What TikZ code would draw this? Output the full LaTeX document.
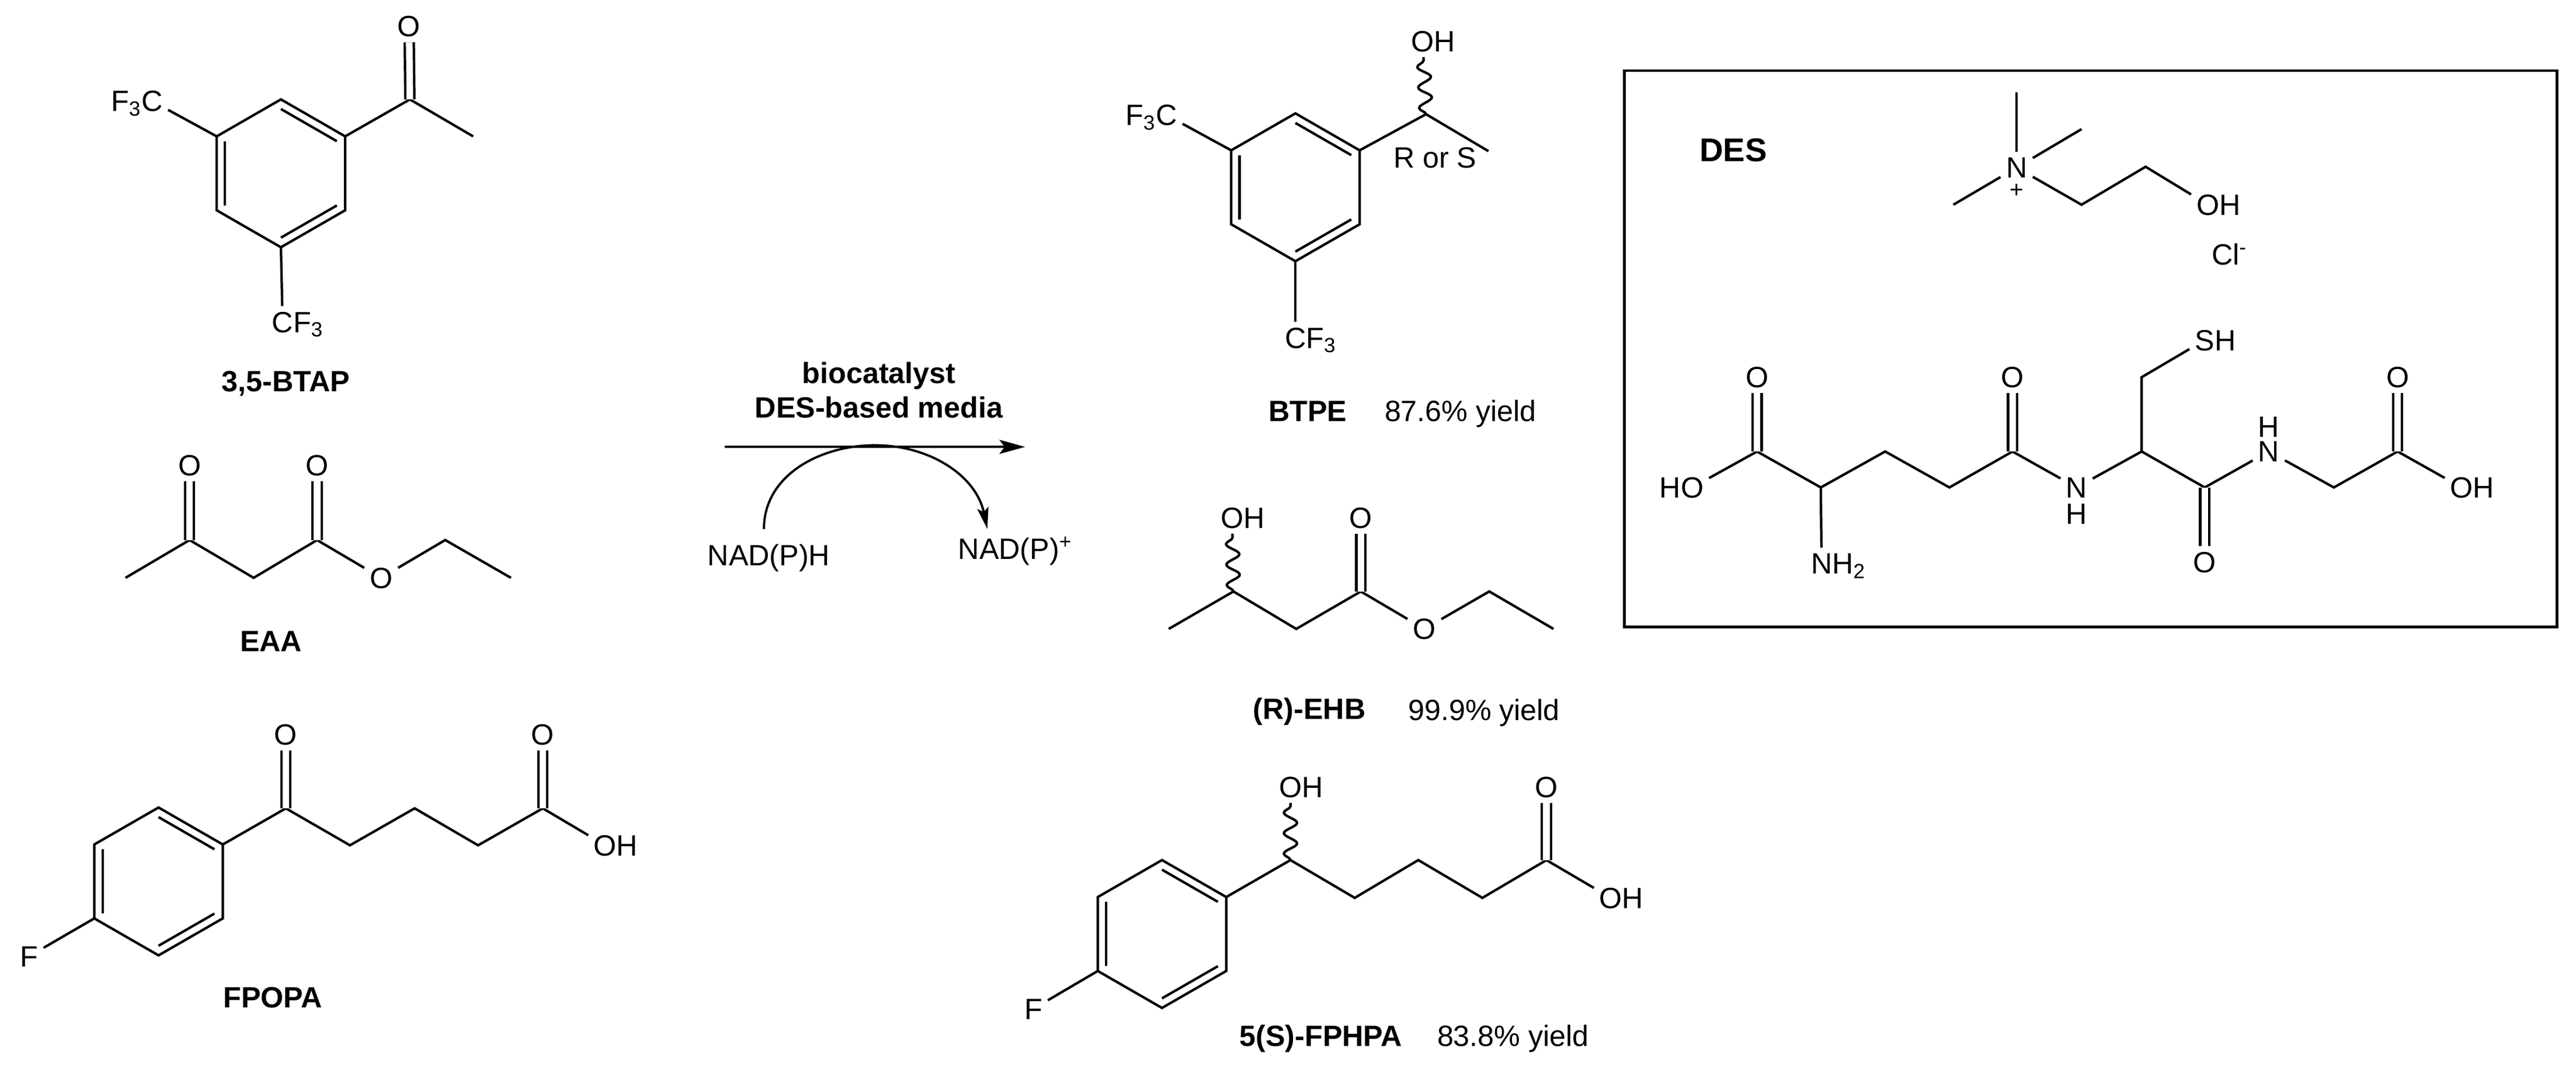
\documentclass[tikz,border=0pt]{standalone}
\usepackage{fontspec}
\setmainfont{Liberation Sans}
\usetikzlibrary{calc,arrows.meta,decorations.pathmorphing}
\tikzstyle{atom} = [inner sep=2.5pt, text height=10.2pt, text depth=0pt,
    font=\fontsize{14.3}{17}\selectfont]
\tikzstyle{molname} = [atom, font=\fontsize{14.3}{17}\selectfont\bfseries]
\tikzstyle{bond} = [draw, line width=1.2pt]
\tikzstyle{dbond} = [draw, double, line width=1.2pt, double distance=3.2pt]
\tikzstyle{wavy} = [draw, line width=1.2pt, decorate,
    decoration={snake, segment length=10pt, amplitude=3.2pt}]
\tikzstyle{arrow} = [draw, line width=1.2pt, -{Stealth[length=12.5pt, width=6.8pt, inset=2.5pt]}]
\tikzstyle{cofarrow} = [draw, line width=1.1pt, -{Stealth[length=10.5pt, width=5.5pt, inset=2pt]}]
% ring with centre at #2,#3; vertices #1a (top) to #1f, clockwise
\newcommand{\benzring}[3]{
  \coordinate (#1o) at (#2,#3);
  \coordinate (#1a) at (#2,#3-45);
  \coordinate (#1b) at (#2+39.1,#3-22.5);
  \coordinate (#1c) at (#2+39.1,#3+22.5);
  \coordinate (#1d) at (#2,#3+45);
  \coordinate (#1e) at (#2-39.1,#3+22.5);
  \coordinate (#1f) at (#2-39.1,#3-22.5);
  \draw[bond, line join=miter] (#1a) -- (#1b) -- (#1c) -- (#1d) -- (#1e) -- (#1f) -- cycle;
  \draw[bond] ($(#1a)!.13!(#1o)$) -- ($(#1b)!.13!(#1o)$);
  \draw[bond] ($(#1c)!.13!(#1o)$) -- ($(#1d)!.13!(#1o)$);
  \draw[bond] ($(#1e)!.13!(#1o)$) -- ($(#1f)!.13!(#1o)$);
}

\begin{document}
\begin{tikzpicture}[x=0.028132cm, y=-0.028132cm]
    \useasboundingbox (0,0) rectangle (1568,649.44);

    % 3,5-BTAP
    \benzring{btap}{171}{105.5}
    \coordinate (btapco) at (249.5,60.5);
    \coordinate (btapme) at (288,83);
    \node[atom] (btapox) at (249,16) {O};
    \node[atom] (btapfl) at (92.5,61.5) {\llap{F\textsubscript{3}}C};
    \node[atom] (btapcf) at (172,196) {C\rlap{F\textsubscript{3}}};
    \node[molname] (btapname) at (174,232) {3,5-BTAP};
    \draw[bond] (btapb) -- (btapco) -- (btapme);
    \draw[dbond] (btapco) -- (btapox);
    \draw[bond] (btapf) -- (btapfl);
    \draw[bond] (btapd) -- (btapcf);

    % EAA
    \coordinate (eaame) at (76.4,351.7);
    \coordinate (eaaca) at (115.4,328.7);
    \coordinate (eaach) at (154.4,351.7);
    \coordinate (eaacb) at (193,328.7);
    \coordinate (eaacc) at (271,328.7);
    \coordinate (eaacd) at (311,351.7);
    \node[atom] (eaaoa) at (115.4,283) {O};
    \node[atom] (eaaob) at (193,283) {O};
    \node[atom] (eaaoc) at (232,351.7) {O};
    \node[molname] (eaaname) at (165,390) {EAA};
    \draw[bond] (eaame) -- (eaaca) -- (eaach) -- (eaacb) -- (eaaoc) -- (eaacc) -- (eaacd);
    \draw[dbond] (eaaca) -- (eaaoa);
    \draw[dbond] (eaacb) -- (eaaob);

    % FPOPA
    \benzring{fpo}{96.5}{536.5}
    \coordinate (fpoca) at (174,492);
    \coordinate (fpocb) at (213,514.5);
    \coordinate (fpocc) at (252.4,492);
    \coordinate (fpocd) at (291,514.5);
    \coordinate (fpoce) at (330.4,492);
    \node[atom] (fpofl) at (17.7,582) {F};
    \node[atom] (fpooa) at (174,447) {O};
    \node[atom] (fpoob) at (330.4,447) {O};
    \node[atom] (fpooh) at (368.4,514.5) {O\rlap{H}};
    \node[molname] (fponame) at (166,607) {FPOPA};
    \draw[bond] (fpob) -- (fpoca) -- (fpocb) -- (fpocc) -- (fpocd) -- (fpoce) -- (fpooh);
    \draw[dbond] (fpoca) -- (fpooa);
    \draw[dbond] (fpoce) -- (fpoob);
    \draw[bond] (fpoe) -- (fpofl);

    % reaction arrow
    \coordinate (arrowstart) at (441,272);
    \coordinate (arrowend) at (624,272);
    \coordinate (cofstart) at (465,322);
    \coordinate (coftop) at (532.6,271);
    \coordinate (cofend) at (601,322);
    \node[molname] (catalyst) at (535,227) {biocatalyst};
    \node[molname] (media) at (535,248) {DES-based media};
    \node[atom] (nadh) at (468,338) {NAD(P)H};
    \node[atom] (nadp) at (618,334) {NAD(P)\textsuperscript{+}};
    \draw[arrow] (arrowstart) -- (arrowend);
    \draw[line width=1.1pt] (cofstart) to[out=90, in=180] (coftop);
    \draw[cofarrow] (coftop) to[out=0, in=102] (cofend);

    % BTPE
    \benzring{btp}{788.5}{114}
    \coordinate (btpch) at (868,69.5);
    \coordinate (btpme) at (906,92);
    \node[atom] (btpoh) at (866,25) {O\rlap{H}};
    \node[atom] (btpfl) at (710,70) {\llap{F\textsubscript{3}}C};
    \node[atom] (btpcf) at (788.5,205.5) {C\rlap{F\textsubscript{3}}};
    \node[atom] (btprs) at (873.5,96) {R or S};
    \node[molname] (btpname) at (796,250) {BTPE};
    \node[atom] (btpyield) at (889,250) {87.6\% yield};
    \draw[bond] (btpb) -- (btpch) -- (btpme);
    \draw[wavy] (btpch) -- (btpoh);
    \draw[bond] (btpf) -- (btpfl);
    \draw[bond] (btpd) -- (btpcf);

    % (R)-EHB
    \coordinate (ehbme) at (711.4,382.8);
    \coordinate (ehbca) at (750.8,360);
    \coordinate (ehbch) at (789,382.8);
    \coordinate (ehbcb) at (828.3,360);
    \coordinate (ehbcc) at (906.5,360);
    \coordinate (ehbcd) at (945.6,382.8);
    \node[atom] (ehboh) at (750,315) {O\rlap{H}};
    \node[atom] (ehboa) at (828.3,315) {O};
    \node[atom] (ehbob) at (867,382.8) {O};
    \node[molname] (ehbname) at (797,431.5) {(R)-EHB};
    \node[atom] (ehbyield) at (903.3,432) {99.9\% yield};
    \draw[bond] (ehbme) -- (ehbca) -- (ehbch) -- (ehbcb) -- (ehbob) -- (ehbcc) -- (ehbcd);
    \draw[dbond] (ehbcb) -- (ehboa);
    \draw[wavy] (ehbca) -- (ehboh);

    % 5(S)-FPHPA
    \benzring{fph}{707.3}{568.5}
    \coordinate (fphca) at (785.5,523.5);
    \coordinate (fphcb) at (824.6,546.5);
    \coordinate (fphcc) at (863.3,523.5);
    \coordinate (fphcd) at (902.3,546.5);
    \coordinate (fphce) at (941.3,523.5);
    \node[atom] (fphfl) at (629,614) {F};
    \node[atom] (fphoh) at (785.5,479) {O\rlap{H}};
    \node[atom] (fphoa) at (941.3,479) {O};
    \node[atom] (fphob) at (980.5,546.5) {O\rlap{H}};
    \node[molname] (fphname) at (804,630.5) {5(S)-FPHPA};
    \node[atom] (fphyield) at (921,630.5) {83.8\% yield};
    \draw[bond] (fphb) -- (fphca) -- (fphcb) -- (fphcc) -- (fphcd) -- (fphce) -- (fphob);
    \draw[dbond] (fphce) -- (fphoa);
    \draw[wavy] (fphca) -- (fphoh);
    \draw[bond] (fphe) -- (fphfl);

    % DES box
    \node[draw, line width=1.3pt, minimum width=15.97cm, minimum height=9.53cm, inner sep=0pt] (desbox) at (1272.6,212.3) {};
    \node[molname, font=\fontsize{16}{19}\selectfont\bfseries, text height=11.4pt] (desname) at (1055,91) {DES};

    % choline
    \coordinate (chme) at (1227.5,56);
    \coordinate (chmf) at (1267,78.6);
    \coordinate (chmg) at (1189,124.6);
    \coordinate (chca) at (1267,124.6);
    \coordinate (chcb) at (1306,101.5);
    \node[atom] (chn) at (1227.5,102) {N};
    \node[atom, inner sep=0pt, text height=8pt, font=\fontsize{11.5}{13}\selectfont] (chplus) at (1227.5,115.5) {+};
    \node[atom] (choh) at (1344,124.6) {O\rlap{H}};
    \node[atom] (chcl) at (1357,155) {Cl\textsuperscript{-}};
    \draw[bond] (chme) -- (chn);
    \draw[bond] (chmf) -- (chn);
    \draw[bond] (chmg) -- (chn);
    \draw[bond] (chn) -- (chca) -- (chcb) -- (choh);

    % glutathione
    \coordinate (glca) at (1069.5,274.8);
    \coordinate (glcb) at (1108.3,296.7);
    \coordinate (glcc) at (1147.5,274.8);
    \coordinate (glcd) at (1186.6,296.7);
    \coordinate (glce) at (1225,274.8);
    \coordinate (glcf) at (1303.6,274.8);
    \coordinate (glcg) at (1303.6,229.6);
    \coordinate (glch) at (1342,296.7);
    \coordinate (glci) at (1420.6,296.7);
    \coordinate (glcj) at (1459.4,274.8);
    \node[atom] (glho) at (1030,296.7) {\llap{H}O};
    \node[atom] (gloa) at (1069.5,229.6) {O};
    \node[atom] (glnh) at (1108.8,343) {N\rlap{H\textsubscript{2}}};
    \node[atom] (glob) at (1225,229.6) {O};
    \node[atom] (glna) at (1264,296.7) {N};
    \node[atom, inner sep=0pt] (glhn) at (1264,312.6) {H};
    \node[atom] (glsh) at (1342,207) {S\rlap{H}};
    \node[atom] (gloc) at (1342,342) {O};
    \node[atom] (glnb) at (1381,274.8) {N};
    \node[atom, inner sep=0pt] (glhm) at (1381,259.6) {H};
    \node[atom] (glod) at (1459.4,229.6) {O};
    \node[atom] (gloh) at (1498.4,296.7) {O\rlap{H}};
    \draw[bond] (glho) -- (glca) -- (glcb) -- (glcc) -- (glcd) -- (glce) -- (glna) -- (glcf) -- (glch) -- (glnb) -- (glci) -- (glcj) -- (gloh);
    \draw[bond] (glcb) -- (glnh);
    \draw[bond] (glcf) -- (glcg) -- (glsh);
    \draw[dbond] (glca) -- (gloa);
    \draw[dbond] (glce) -- (glob);
    \draw[dbond] (glch) -- (gloc);
    \draw[dbond] (glcj) -- (glod);
  \end{tikzpicture}
\end{document}
